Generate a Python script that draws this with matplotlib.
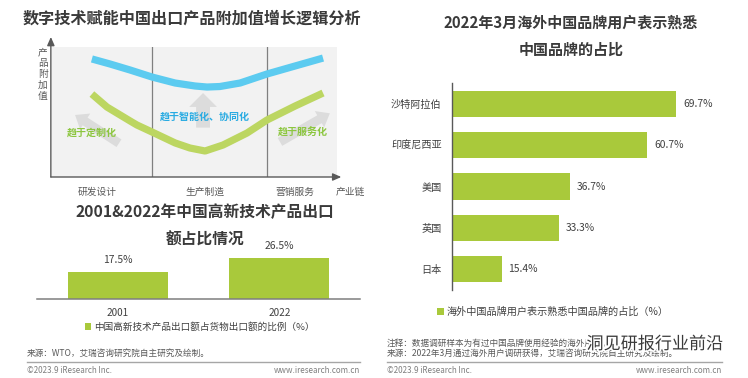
import matplotlib
matplotlib.use("Agg")
import matplotlib.pyplot as plt
from matplotlib.patches import FancyArrowPatch
import matplotlib.patheffects as pe
from matplotlib.lines import Line2D

plt.rcParams['font.family'] = ['Noto Sans CJK SC', 'DejaVu Sans']

# ---------------- data ----------------
# smile curve (conceptual: value-chain position vs. added value, 0-100 scale)
smile_x_blue = [14.0, 20.4, 27.4, 35.1, 43.2, 50.2, 54.4, 58.9, 66.0, 75.4, 85.3, 95.1]
smile_y_blue = [90.8, 86.9, 82.3, 76.9, 72.3, 70.0, 69.2, 69.6, 72.3, 79.2, 85.4, 91.5]
smile_x_green = [14.0, 19.3, 27.4, 29.8, 35.1, 43.2, 48.4, 53.7, 60.0, 68.4, 75.4, 85.3, 95.1]
smile_y_green = [63.8, 53.8, 43.1, 40.0, 34.6, 26.2, 22.3, 20.0, 24.6, 33.8, 43.8, 54.6, 64.6]
stage_names = ['研发设计', '生产制造', '营销服务']
stage_label_x = [16, 53.7, 85.3]
stage_dividers = [35.1, 75.4]
trend_texts = ['趋于定制化', '趋于智能化、协同化', '趋于服务化']

years = ['2001', '2022']
hitech_share = [17.5, 26.5]

countries = ['沙特阿拉伯', '印度尼西亚', '美国', '英国', '日本']
familiar_share = [69.7, 60.7, 36.7, 33.3, 15.4]

# ---------------- styles ----------------
W, H = 748, 378
GREEN = '#A9C93B'
BLUE_CURVE = '#5CCBF0'
GREEN_CURVE = '#BCD661'
TITLE_C = '#3a3a3a'
TXT_C = '#595959'

fig = plt.figure(figsize=(W / 100, H / 100), dpi=100)
fig.patch.set_facecolor('white')


def fx(x):
    return x / W


def fy(y):
    return 1 - y / H


def ftext(x, y, s, **kw):
    kw.setdefault('ha', 'center')
    kw.setdefault('va', 'center')
    return fig.text(fx(x), fy(y), s, **kw)


def axes_px(x0, y0, x1, y1):
    return fig.add_axes([x0 / W, 1 - y1 / H, (x1 - x0) / W, (y1 - y0) / H])


# ================= left top: smile curve =================
ftext(192, 19, '数字技术赋能中国出口产品附加值增长逻辑分析', fontsize=11.6,
      fontweight='bold', color=TITLE_C)

axs = axes_px(52, 47, 337, 177)
axs.set_xlim(0, 100)
axs.set_ylim(0, 100)
axs.set_facecolor('#f2f2f2')
for s in axs.spines.values():
    s.set_visible(False)
axs.set_xticks([])
axs.set_yticks([])

for d in stage_dividers:
    axs.axvline(d, color='#808080', lw=0.9, zorder=1)

diag_kw = dict(arrowstyle='simple,head_length=8.6,head_width=13.5,tail_width=6.5',
               mutation_scale=1, color='#dcdcdc', shrinkA=0, shrinkB=0,
               zorder=2, lw=0)
up_kw = dict(arrowstyle='simple,head_length=10,head_width=20,tail_width=10',
             mutation_scale=1, color='#dcdcdc', shrinkA=0, shrinkB=0,
             zorder=2, lw=0)
# left (up-left), middle (up), right (up-right)
axs.add_patch(FancyArrowPatch((23.5, 26), (8.1, 47.7), **diag_kw))
axs.add_patch(FancyArrowPatch((53.0, 38), (53.0, 64.6), **up_kw))
axs.add_patch(FancyArrowPatch((80.0, 27), (97.5, 49), **diag_kw))

axs.plot(smile_x_blue, smile_y_blue, color=BLUE_CURVE, lw=5.2,
         solid_capstyle='butt', solid_joinstyle='round', zorder=3)
axs.plot(smile_x_green, smile_y_green, color=GREEN_CURVE, lw=5.2,
         solid_capstyle='butt', solid_joinstyle='round', zorder=3)

axs.text(14, 34, trend_texts[0], color='#8CC63F', fontsize=7.2,
         fontweight='bold', ha='center', va='center', zorder=5)
axs.text(53.5, 46, trend_texts[1], color='#29ABE2', fontsize=7.2,
         fontweight='bold', ha='center', va='center', zorder=5)
axs.text(88, 34.5, trend_texts[2], color='#8CC63F', fontsize=7.2,
         fontweight='bold', ha='center', va='center', zorder=5)

# axes with arrows
axs.annotate('', xy=(101.5, 0), xytext=(-0.4, 0), xycoords='data',
             arrowprops=dict(arrowstyle='-|>,head_length=0.5,head_width=0.22',
                             color='#595959', lw=1.0, shrinkA=0, shrinkB=0),
             annotation_clip=False)
axs.annotate('', xy=(-0.4, 107.7), xytext=(-0.4, 0), xycoords='data',
             arrowprops=dict(arrowstyle='-|>,head_length=0.5,head_width=0.22',
                             color='#595959', lw=1.0, shrinkA=0, shrinkB=0),
             annotation_clip=False)

for name, xs in zip(stage_names, stage_label_x):
    axs.text(xs, -11.5, name, fontsize=7, color=TXT_C, ha='center', va='center')
axs.text(104.5, -11.5, '产业链', fontsize=7, color=TXT_C, ha='center', va='center')
ftext(43, 74, '产\n品\n附\n加\n值', fontsize=7, color=TXT_C, linespacing=1.13)

# ================= left bottom: bar chart =================
ftext(205, 212, '2001&2022年中国高新技术产品出口', fontsize=11.3,
      fontweight='bold', color=TITLE_C)
ftext(205, 240, '额占比情况', fontsize=11.3, fontweight='bold', color=TITLE_C)

axb = axes_px(37, 252.5, 360, 299)
bars_b = axb.bar(years, hitech_share, width=0.62, color=GREEN, zorder=2,
                 label='中国高新技术产品出口额占货物出口额的比例（%）')
axb.set_xlim(-0.5, 1.5)
axb.set_ylim(0, 30)
axb.set_facecolor('none')
for k in ['top', 'left', 'right']:
    axb.spines[k].set_visible(False)
axb.spines['bottom'].set_color('#7f7f7f')
axb.spines['bottom'].set_linewidth(1.1)
axb.set_yticks([])
axb.tick_params(axis='x', length=0, pad=6.5, labelsize=7.2, labelcolor='#404040')
axb.bar_label(bars_b, labels=[f'{v}%' for v in hitech_share], padding=5,
              fontsize=7.4, color='#404040')
axb.legend(loc='center', bbox_to_anchor=(fx(199.5), fy(327)),
           bbox_transform=fig.transFigure, frameon=False, fontsize=6.9,
           handlelength=0.65, handleheight=0.65, handletextpad=0.3,
           borderpad=0, labelcolor='#404040')

# footer left
ftext(27, 353, '来源：WTO，艾瑞咨询研究院自主研究及绘制。', fontsize=6.2,
      color='#595959', ha='left')
fig.add_artist(Line2D([fx(27), fx(360)], [fy(362), fy(362)], color='#a6a6a6', lw=1.0))
ftext(27, 370.5, '©2023.9 iResearch Inc.', fontsize=5.8, color='#7f7f7f', ha='left')
ftext(360, 370.5, 'www.iresearch.com.cn', fontsize=5.8, color='#7f7f7f', ha='right')

# ================= right: horizontal bars =================
ftext(571, 23, '2022年3月海外中国品牌用户表示熟悉', fontsize=10.8,
      fontweight='bold', color=TITLE_C)
ftext(571, 50, '中国品牌的占比', fontsize=10.8, fontweight='bold', color=TITLE_C)

axr = axes_px(452, 83, 452 + 80 * 3.22, 290)
bars_r = axr.barh(countries, familiar_share, height=0.63, color=GREEN, zorder=2,
                  label='海外中国品牌用户表示熟悉中国品牌的占比（%）')
axr.set_xlim(0, 80)
axr.set_ylim(4.5, -0.5)
axr.set_facecolor('none')
for k in ['top', 'bottom', 'right']:
    axr.spines[k].set_visible(False)
axr.spines['left'].set_color('#595959')
axr.spines['left'].set_linewidth(1.0)
axr.set_xticks([])
axr.tick_params(axis='y', length=0, pad=7.5, labelsize=7.3, labelcolor='#404040')
axr.bar_label(bars_r, labels=[f'{v}%' for v in familiar_share], padding=5,
              fontsize=7.4, color='#404040')
axr.legend(loc='center', bbox_to_anchor=(fx(553), fy(312)),
           bbox_transform=fig.transFigure, frameon=False, fontsize=7.3,
           handlelength=0.65, handleheight=0.65, handletextpad=0.3,
           borderpad=0, labelcolor='#404040')

# footer right
ftext(387, 343, '注释：数据调研样本为有过中国品牌使用经验的海外用户。', fontsize=6.2,
      color='#595959', ha='left')
ftext(387, 353, '来源：2022年3月通过海外用户调研获得，艾瑞咨询研究院自主研究及绘制。',
      fontsize=6.2, color='#595959', ha='left')
fig.add_artist(Line2D([fx(387), fx(722)], [fy(362), fy(362)], color='#a6a6a6', lw=1.0))
ftext(387, 370.5, '©2023.9 iResearch Inc.', fontsize=5.8, color='#7f7f7f', ha='left')
ftext(722, 370.5, 'www.iresearch.com.cn', fontsize=5.8, color='#7f7f7f', ha='right')

# watermark
ftext(655, 344, '洞见研报行业前沿', fontsize=12.3, color='#3a3a3a',
      path_effects=[pe.withStroke(linewidth=2.5, foreground='white')])

fig.savefig('out.png', dpi=100)
